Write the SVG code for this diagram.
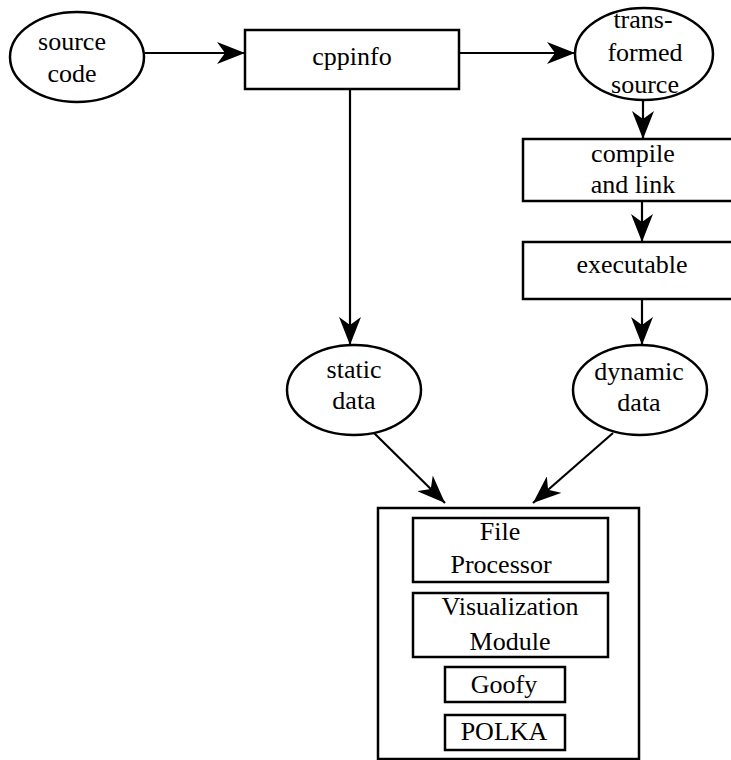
<svg xmlns="http://www.w3.org/2000/svg" width="731" height="760" viewBox="0 0 731 760">
<style>
.node-shape{fill:#fff;stroke:#000;stroke-width:2.5}
.edge{fill:none;stroke:#000;stroke-width:2.2;marker-end:url(#ah)}
</style>
<defs>
<marker id="ah" viewBox="0 0 28 22" refX="28" refY="11" markerWidth="28" markerHeight="22" markerUnits="userSpaceOnUse" orient="auto">
<path d="M0,0 L28,11 L0,22 L8,11 Z" fill="#000"/>
</marker>
</defs>
<rect width="731" height="760" fill="#fff"/>
<g id="connectors">
<path class="edge" d="M145,53 L245,53"/>
<path class="edge" d="M459,53 L575,53"/>
<path class="edge" d="M350,89 L350,345"/>
<path class="edge" d="M643,100 L643,139"/>
<path class="edge" d="M642,201 L642,242"/>
<path class="edge" d="M642,299 L642,345"/>
<path class="edge" d="M373,432 L445,503"/>
<path class="edge" d="M613,433 L533,503"/>
</g>
<g font-family="Liberation Serif, serif" font-size="26" text-anchor="middle" fill="#000">
<g id="source_code">
<ellipse class="node-shape" cx="77" cy="57" rx="67" ry="45"/>
<text x="72" y="50">source</text>
<text x="72" y="82">code</text>
</g>
<g id="cppinfo">
<rect class="node-shape" x="245" y="30" width="214" height="59"/>
<text x="352" y="65">cppinfo</text>
</g>
<g id="transformed_source">
<ellipse class="node-shape" cx="644" cy="54" rx="69" ry="46"/>
<text x="643" y="28">trans-</text>
<text x="645" y="61">formed</text>
<text x="645" y="93">source</text>
</g>
<g id="compile_link">
<rect class="node-shape" x="523" y="139" width="220" height="62"/>
<text x="633" y="162">compile</text>
<text x="633" y="193">and link</text>
</g>
<g id="executable">
<rect class="node-shape" x="523" y="242" width="220" height="57"/>
<text x="632" y="273">executable</text>
</g>
<g id="static_data">
<ellipse class="node-shape" cx="354" cy="390" rx="67" ry="45"/>
<text x="354" y="378">static</text>
<text x="354" y="409">data</text>
</g>
<g id="dynamic_data">
<ellipse class="node-shape" cx="640" cy="390" rx="67" ry="45"/>
<text x="639" y="380">dynamic</text>
<text x="639" y="411">data</text>
</g>
<g id="tool">
<rect class="node-shape" x="378" y="508" width="261" height="251"/>
</g>
<g id="file_processor">
<rect class="node-shape" x="413" y="518" width="195" height="64"/>
<text x="500" y="540">File</text>
<text x="501" y="573">Processor</text>
</g>
<g id="visualization_module">
<rect class="node-shape" x="413" y="593" width="195" height="64"/>
<text x="510" y="615">Visualization</text>
<text x="510" y="650">Module</text>
</g>
<g id="goofy">
<rect class="node-shape" x="445" y="667" width="120" height="35"/>
<text x="504" y="693">Goofy</text>
</g>
<g id="polka">
<rect class="node-shape" x="445" y="715" width="120" height="35"/>
<text x="504" y="740">POLKA</text>
</g>
</g>
</svg>
